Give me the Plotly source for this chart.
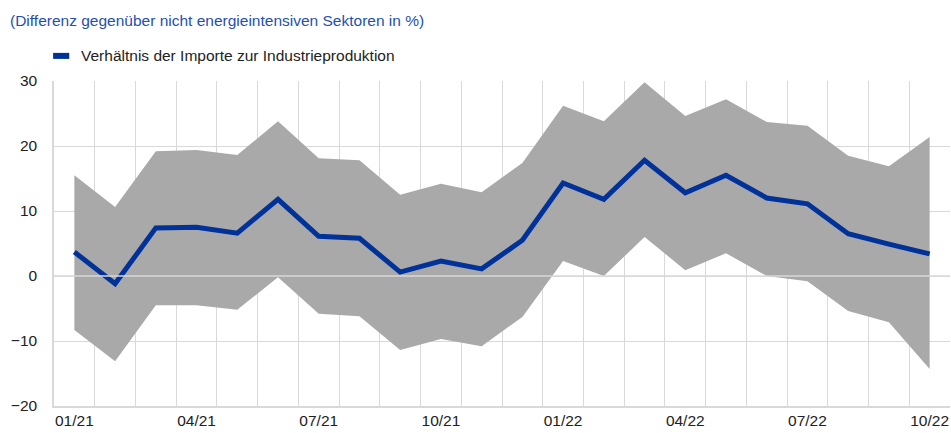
import plotly.graph_objects as go

months = ["01/21", "02/21", "03/21", "04/21", "05/21", "06/21", "07/21", "08/21",
          "09/21", "10/21", "11/21", "12/21", "01/22", "02/22", "03/22", "04/22",
          "05/22", "06/22", "07/22", "08/22", "09/22", "10/22"]
ratio = [3.7, -1.2, 7.4, 7.5, 6.6, 11.8, 6.1, 5.8, 0.6, 2.3, 1.1, 5.5,
         14.3, 11.8, 17.8, 12.8, 15.5, 12.0, 11.1, 6.5, 4.9, 3.4]
upper = [15.5, 10.6, 19.2, 19.4, 18.6, 23.8, 18.1, 17.8, 12.5, 14.2, 12.9, 17.4,
         26.2, 23.8, 29.8, 24.6, 27.2, 23.7, 23.1, 18.5, 16.9, 21.4]
lower = [-8.3, -13.1, -4.5, -4.5, -5.2, -0.2, -5.8, -6.2, -11.4, -9.7, -10.8, -6.3,
         2.3, 0.0, 6.0, 0.9, 3.5, 0.0, -0.8, -5.4, -7.1, -14.3]
tick_labels = ["01/21", "04/21", "07/21", "10/21", "01/22", "04/22", "07/22", "10/22"]
title_text = "(Differenz gegenüber nicht energieintensiven Sektoren in %)"
legend_text = "Verhältnis der Importe zur Industrieproduktion"

x = list(range(len(months)))
tick_pos = [months.index(t) for t in tick_labels]

BLUE = "#003299"
GRID = "#d9d9d9"
FONT = "Liberation Sans, Arial, sans-serif"
FS = 15.5

fig = go.Figure()
fig.add_trace(go.Scatter(x=x, y=lower, mode="lines", line=dict(width=0, color="#a9a9a9"),
                         showlegend=False, hoverinfo="skip"))
fig.add_trace(go.Scatter(x=x, y=upper, mode="lines", line=dict(width=0, color="#a9a9a9"),
                         fill="tonexty", fillcolor="#a9a9a9", showlegend=False, hoverinfo="skip"))
fig.add_trace(go.Scatter(x=x, y=ratio, mode="lines", name=legend_text,
                         line=dict(color=BLUE, width=5), showlegend=False))

fig.add_shape(type="line", xref="paper", yref="y", x0=0, x1=1, y0=0, y1=0,
              line=dict(color=GRID, width=1.5), layer="above")

# manual legend
fig.add_shape(type="rect", xref="paper", yref="paper",
              x0=-0.001, x1=0.0170, y0=1.0680, y1=1.0865,
              fillcolor=BLUE, line=dict(width=0))
fig.add_annotation(text=legend_text, xref="paper", yref="paper", x=0.0280, y=1.0790,
                   xanchor="left", yanchor="middle", showarrow=False,
                   font=dict(family=FONT, size=FS, color="#222222"))

fig.update_layout(
    width=951, height=433,
    margin=dict(l=54, r=1, t=81, b=27),
    paper_bgcolor="white", plot_bgcolor="white",
    font=dict(family=FONT, size=FS, color="#222222"),
    title=dict(text=title_text, x=10 / 951, xref="container", y=1 - 21 / 433, yref="container",
               xanchor="left", yanchor="middle",
               font=dict(family=FONT, size=FS, color="#1f4fb3")),
    showlegend=False,
    xaxis=dict(range=[-0.5, len(months) - 0.5], tickvals=tick_pos, ticktext=tick_labels,
               showgrid=False, zeroline=False, showline=True, linecolor=GRID, linewidth=1.5,
               ticks="", ticklen=0, automargin=False,
               minor=dict(tick0=-0.5, dtick=1, showgrid=True, gridcolor=GRID, gridwidth=1, ticks="")),
    yaxis=dict(range=[-20, 30], dtick=10, showgrid=True, gridcolor=GRID, gridwidth=1,
               zeroline=False, showline=True, linecolor=GRID, linewidth=1.5, automargin=False,
               ticks="outside", ticklen=12, tickcolor="rgba(0,0,0,0)"),
)

fig.write_html("out.html", config={"displayModeBar": False},
               post_script="document.body.style.margin='0';")
